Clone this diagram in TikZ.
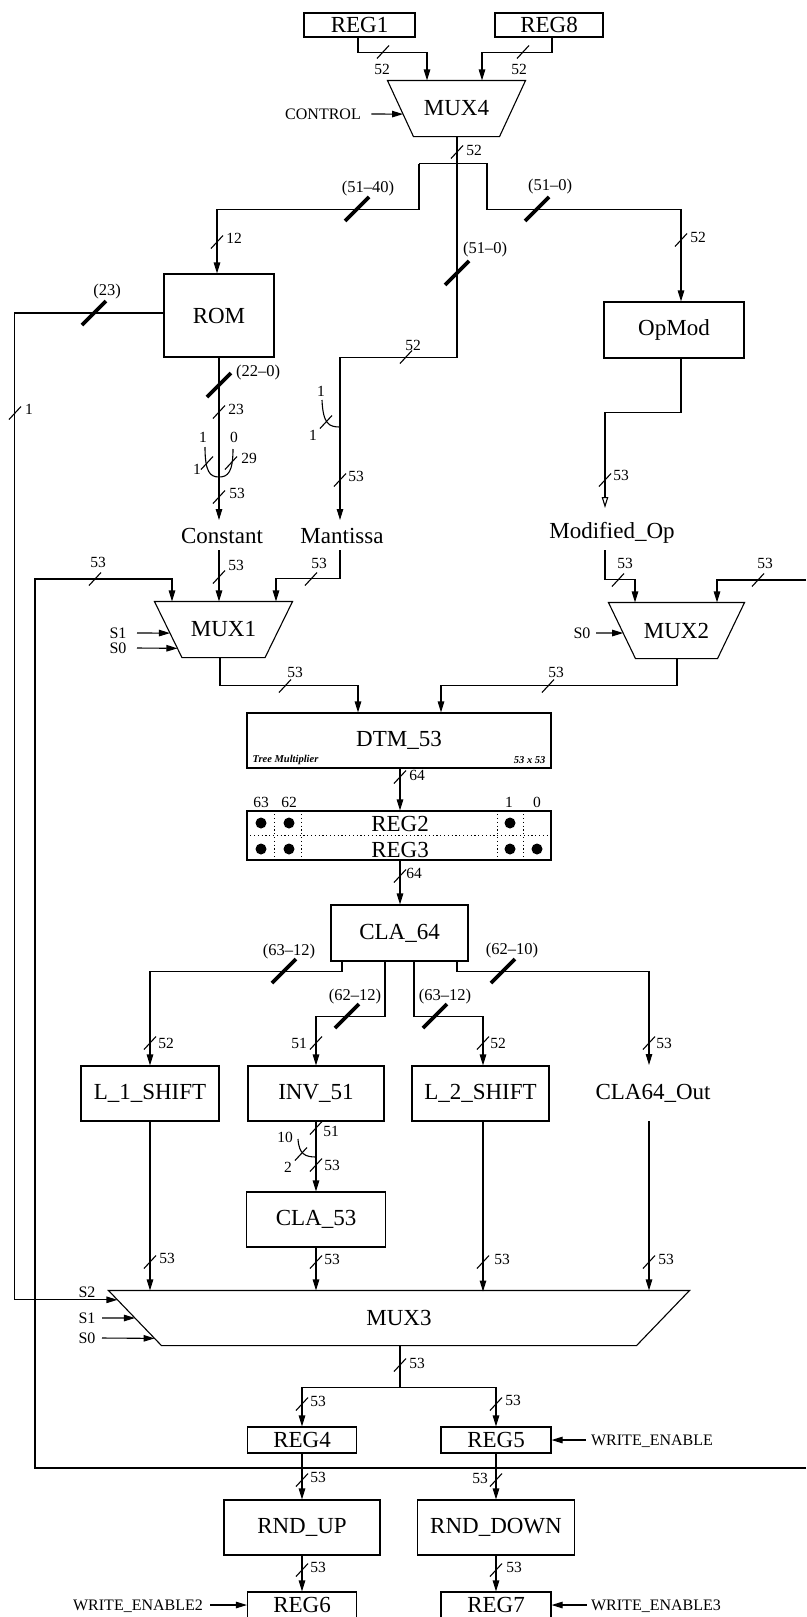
\documentclass[tikz,border=0pt]{standalone}
\usepackage{fontspec}
\setmainfont{Liberation Serif}
\usetikzlibrary{arrows.meta,calc}
\newcounter{lbc}
\newcommand\mainf{\fontsize{23}{26}\selectfont}
\newcommand\btk[2]{\draw[tick] ({#1-6},{#2+6.5}) -- ({#1+6},{#2-6.5});}
\newcommand\bthk[2]{\draw[ttick] ({#1-12},{#2+12}) -- ({#1+12},{#2-12});}
\newcommand\blab[3]{\stepcounter{lbc}\node[lab] (lb\arabic{lbc}) at (#1,#2) {#3};}
\newcommand\brng[3]{\stepcounter{lbc}\node[rng] (lb\arabic{lbc}) at (#1,#2) {#3};}
\newcommand\muxdraw[2]{\draw (#1.north west) -- (#1.north east) -- ([xshift=-#2pt]#1.south east) -- ([xshift=#2pt]#1.south west) -- cycle;}
\begin{document}
\begin{tikzpicture}[x=1pt,y=-1pt,line width=1.1pt,
  bx/.style n args={2}{draw, minimum width=#1pt, minimum height=#2pt, inner sep=0pt, font=\mainf},
  mx/.style n args={2}{minimum width=#1pt, minimum height=#2pt, inner sep=0pt, font=\mainf},
  txt/.style={inner sep=0pt, font=\mainf},
  lab/.style={inner sep=0pt, font=\fontsize{15.5}{17}\selectfont},
  rng/.style={inner sep=0pt, font=\fontsize{16.5}{18}\selectfont},
  sig/.style={inner sep=0pt, font=\fontsize{16}{18}\selectfont},
  arr/.style={-{Triangle[length=11pt,width=6.5pt]}},
  oarr/.style={-{Triangle[open,length=11pt,width=6.5pt]}},
  tick/.style={line width=1.1pt},
  ttick/.style={line width=3.8pt},
  dotl/.style={line width=1.2pt, dash pattern=on 1.2pt off 2.6pt}]
\fill[white] (0,0) rectangle (806,1617);
\useasboundingbox (0,0) rectangle (806,1617);

% ---------- nodes ----------
\node[bx={111}{24}] (reg1) at (359.5,25) {REG1};
\node[bx={108}{24}] (reg8) at (549,25) {REG8};
\node[mx={137}{55}] (mux4) at (456.5,108.5) {MUX4};
\muxdraw{mux4}{26}
\node[sig] (ctrl) at (323,114) {CONTROL};
\node[bx={110}{83}] (rom) at (219,315.5) {ROM};
\node[bx={140}{56}] (opmod) at (674,330) {OpMod};
\node[txt] (const) at (222,535.5) {Constant};
\node[txt] (mant) at (342,535.5) {Mantissa};
\node[txt] (modop) at (612,533) {Modified\_Op};
\coordinate (constT) at (219,520); \coordinate (constB) at (219,550);
\coordinate (mantT) at (340,520); \coordinate (mantB) at (340,550);
\coordinate (modopT) at (605,508); \coordinate (modopB) at (605,550);

\node[mx={137}{55}] (mux1) at (223.5,629.5) {MUX1};
\muxdraw{mux1}{27.5}
\node[mx={135}{55}] (mux2) at (676.5,630.5) {MUX2};
\muxdraw{mux2}{27}
\node[sig] (s1a) at (118,633) {S1};
\node[sig] (s0a) at (118,648) {S0};
\node[sig] (s0b) at (582,633) {S0};

\node[bx={304}{55}] (dtm) at (399,740.5) {DTM\_53};
\node[inner sep=0pt, anchor=west, font=\fontsize{10.5}{12}\selectfont\bfseries\itshape] (tm1) at (252,760) {Tree Multiplier};
\node[inner sep=0pt, anchor=east, font=\fontsize{10.5}{12}\selectfont\bfseries\itshape] (tm2) at (546,760) {53 x 53};

\node[bx={304}{49}] (reg23) at (399,835.5) {};
\node[txt] (reg2) at (400,823.5) {REG2};
\node[txt] (reg3) at (400,849.5) {REG3};
\draw[dotl] (reg23.west) -- (reg23.east);
\foreach \d in {28,55} \draw[dotl] ([xshift=\d pt]reg23.north west) -- ([xshift=\d pt]reg23.south west);
\foreach \d in {-28,-54} \draw[dotl] ([xshift=\d pt]reg23.north east) -- ([xshift=\d pt]reg23.south east);
\foreach \x/\y in {261/823,289/823,510/823,261/849,289/849,510/849,537/849} \fill (\x,\y) circle[radius=5.5];
\blab{261}{802}{63}
\blab{289}{802}{62}
\blab{509}{802}{1}
\blab{537}{802}{0}

\node[bx={137}{56}] (cla64) at (399.5,933) {CLA\_64};
\node[bx={138}{55}] (l1) at (150,1093.5) {L\_1\_SHIFT};
\node[bx={136}{55}] (inv) at (316,1093.5) {INV\_51};
\node[bx={137}{55}] (l2) at (480.5,1093.5) {L\_2\_SHIFT};
\node[txt] (claout) at (653,1093) {CLA64\_Out};
\coordinate (claoutT) at (649,1065); \coordinate (claoutB) at (649,1121);
\node[bx={139}{55}] (cla53) at (316,1219.5) {CLA\_53};

\node[mx={580}{54}] (mux3) at (399,1318) {MUX3};
\muxdraw{mux3}{53}
\node[sig] (s2c) at (87,1292) {S2};
\node[sig] (s1c) at (87,1318) {S1};
\node[sig] (s0c) at (87,1338) {S0};

\node[bx={109}{26}] (reg4) at (302,1440) {REG4};
\node[bx={110}{26}] (reg5) at (496,1440) {REG5};
\node[sig] (we1) at (652,1441) {WRITE\_ENABLE};
\node[bx={156}{55}] (rndup) at (302,1527.5) {RND\_UP};
\node[bx={157}{55}] (rnddown) at (496,1527.5) {RND\_DOWN};
\node[bx={109}{26}] (reg6) at (302,1605) {REG6};
\node[bx={110}{26}] (reg7) at (496,1605) {REG7};
\node[sig] (we2) at (138,1606) {WRITE\_ENABLE2};
\node[sig] (we3) at (656,1606) {WRITE\_ENABLE3};

% ---------- connectors ----------
\draw[arr] ([xshift=-1.5pt]reg1.south) -- ++(0,15) -| ([xshift=-29.5pt]mux4.north);
\draw[arr] ([xshift=3pt]reg8.south) -- ++(0,15) -| ([xshift=25.5pt]mux4.north);
\draw[arr] (ctrl.east) ++(10,0) -- ($(mux4.north west)!0.6!([xshift=26pt]mux4.south west)$);
\draw[arr] ([xshift=0.5pt]mux4.south) -- ++(0,221) -| (mantT);
\coordinate (sp) at ([xshift=0.5pt,yshift=-27pt]mux4.south);
\draw[arr] ([xshift=-38pt]sp) -- ++(0,46) -| ([xshift=-2pt]rom.north);
\draw[arr] ([xshift=-38pt]sp) -- ([xshift=30pt]sp) -- ++(0,46) -| ([xshift=7pt]opmod.north);
\coordinate (m3s2) at ($(mux3.north west)!0.17!([xshift=53pt]mux3.south west)$);
\draw[arr] ([yshift=2.5pt]rom.west) -- ++(-149,0) |- (m3s2);
\draw[arr] (rom.south) -- (constT);
\draw[oarr] ([xshift=7pt]opmod.south) -- ++(0,54) -| (modopT);
\draw[arr] (constB) -- (constB |- mux1.north);
\draw[arr] (mantB) |- ([xshift=52.5pt,yshift=23pt]mux1.north) -- ([xshift=52.5pt]mux1.north);
\draw[arr] (modopB) |- ([xshift=-41.5pt,yshift=23pt]mux2.north) -- ([xshift=-41.5pt]mux2.north);
\coordinate (fb1) at (806,1468);
\coordinate (fb2) at (806,580);
\draw[arr] (fb1) -- ++(-771,0) -- ++(0,-889) -| ([xshift=-51.5pt]mux1.north);
\draw[arr] (fb2) -| ([xshift=40.5pt]mux2.north);
\draw[arr] (s1a.east) ++(10,0) -- ($(mux1.north west)!0.564!([xshift=27.5pt]mux1.south west)$);
\draw[arr] (s0a.east) ++(10,0) -- ($(mux1.north west)!0.836!([xshift=27.5pt]mux1.south west)$);
\draw[arr] (s0b.east) ++(5,0) -- ($(mux2.north west)!0.545!([xshift=27pt]mux2.south west)$);
\draw[arr] ([xshift=-3.5pt]mux1.south) |- ([xshift=-41pt,yshift=27pt]dtm.north) -- ([xshift=-41pt]dtm.north);
\draw[arr] ([xshift=0.5pt]mux2.south) |- ([xshift=42pt,yshift=27pt]dtm.north) -- ([xshift=42pt]dtm.north);
\draw[arr] ([xshift=1pt]dtm.south) -- ([xshift=1pt]reg23.north);
\draw[arr] ([xshift=1pt]reg23.south) -- ([xshift=0.5pt]cla64.north);
\draw[arr] ([xshift=-57.5pt]cla64.south) -- ++(0,10) -| (l1.north);
\draw[arr] ([xshift=-14.5pt]cla64.south) -- ++(0,55) -| (inv.north);
\draw[arr] ([xshift=14.5pt]cla64.south) -- ++(0,55) -| ([xshift=2.5pt]l2.north);
\draw[arr] ([xshift=57.5pt]cla64.south) -- ++(0,10) -| (claoutT);
\draw[arr] (inv.south) -- (cla53.north);
\draw[arr] (l1.south) -- (l1.south |- mux3.north);
\draw[arr] (cla53.south) -- (cla53.south |- mux3.north);
\draw[arr] ([xshift=2.5pt]l2.south) -- ++(0,170);
\draw[arr] (claoutB) -- (claoutB |- mux3.north);
\draw[arr] (s1c.east) ++(6,0) -- ($(mux3.north west)!0.5!([xshift=53pt]mux3.south west)$);
\draw[arr] (s0c.east) ++(6,0) -- ($(mux3.north west)!0.87!([xshift=53pt]mux3.south west)$);
\draw ([xshift=1pt]mux3.south) -- ++(0,42) coordinate (m3j);
\draw[arr] (m3j) -| (reg4.north);
\draw[arr] (m3j) -| (reg5.north);
\draw[arr] (reg4.south) -- (rndup.north);
\draw[arr] (reg5.south) -- (rnddown.north);
\draw[arr] (rndup.south) -- (reg6.north);
\draw[arr] (rnddown.south) -- (reg7.north);
\draw[arr] (reg5.east -| we1.west) ++(-5,0) -- (reg5.east);
\draw[arr] (reg6.west -| we2.east) ++(7,0) -- (reg6.west);
\draw[arr] (reg7.east -| we3.west) ++(-4,0) -- (reg7.east);

% ---------- bus concatenations ----------
\draw (205,447) .. controls (205,472) and (210,477) .. (219,477) .. controls (228,477) and (233,472) .. (233,449);
\btk{207}{463} \btk{231}{463}
\blab{203}{437}{1} \blab{234}{437}{0} \blab{197}{469}{1} \blab{249}{458}{29}
\draw (322,400) .. controls (323,424) and (329,427) .. (340,427);
\btk{326}{422}
\blab{321}{391}{1} \blab{313}{435}{1}
\draw (298,1139) .. controls (299,1154) and (305,1157) .. (316,1157);
\btk{301}{1154}
\blab{285}{1137}{10} \blab{288}{1167}{2}

% ---------- bus width marks ----------
\btk{383}{52} \blab{382}{69}{52}
\btk{523}{52} \blab{519}{69}{52}
\btk{457}{152} \blab{474}{150}{52}
\bthk{357}{209} \brng{368}{189}{(51--40)}
\bthk{537}{209} \brng{550}{187}{(51--0)}
\bthk{457}{273} \brng{485}{250}{(51--0)}
\btk{217}{242} \blab{234}{238}{12}
\btk{681}{240} \blab{698}{237}{52}
\bthk{94}{313} \brng{107}{292}{(23)}
\btk{15}{413} \blab{29}{409}{1}
\bthk{219}{385} \brng{258}{373}{(22--0)}
\btk{219}{412} \blab{236}{409}{23}
\btk{406}{357} \blab{413}{345}{52}
\btk{219}{497} \blab{237}{493}{53}
\btk{340}{480} \blab{356}{476}{53}
\btk{605}{480} \blab{621}{475}{53}
\btk{95}{579} \blab{98}{562}{53}
\btk{219}{577} \blab{236}{565}{53}
\btk{311}{579} \blab{319}{563}{53}
\btk{618}{580} \blab{625}{563}{53}
\btk{758}{580} \blab{765}{563}{53}
\btk{285}{686} \blab{295}{672}{53}
\btk{548}{686} \blab{556}{672}{53}
\btk{400}{777} \blab{417}{775}{64}
\btk{400}{876} \blab{414}{873}{64}
\bthk{284}{971} \brng{289}{952}{(63--12)}
\bthk{347}{1016} \brng{355}{997}{(62--12)}
\bthk{435}{1016} \brng{445}{997}{(63--12)}
\bthk{503}{971} \brng{512}{951}{(62--10)}
\btk{150}{1043} \blab{166}{1043}{52}
\btk{316}{1043} \blab{299}{1043}{51}
\btk{483}{1043} \blab{498}{1043}{52}
\btk{649}{1043} \blab{664}{1043}{53}
\btk{316}{1128} \blab{331}{1131}{51}
\btk{316}{1165} \blab{332}{1165}{53}
\btk{150}{1262} \blab{167}{1258}{53}
\btk{316}{1262} \blab{332}{1259}{53}
\btk{483}{1262} \blab{502}{1259}{53}
\btk{649}{1262} \blab{666}{1259}{53}
\btk{400}{1365} \blab{417}{1363}{53}
\btk{302}{1404} \blab{318}{1401}{53}
\btk{496}{1404} \blab{513}{1400}{53}
\btk{302}{1480} \blab{318}{1477}{53}
\btk{496}{1480} \blab{480}{1478}{53}
\btk{302}{1570} \blab{318}{1567}{53}
\btk{496}{1570} \blab{514}{1567}{53}
\end{tikzpicture}
\end{document}
